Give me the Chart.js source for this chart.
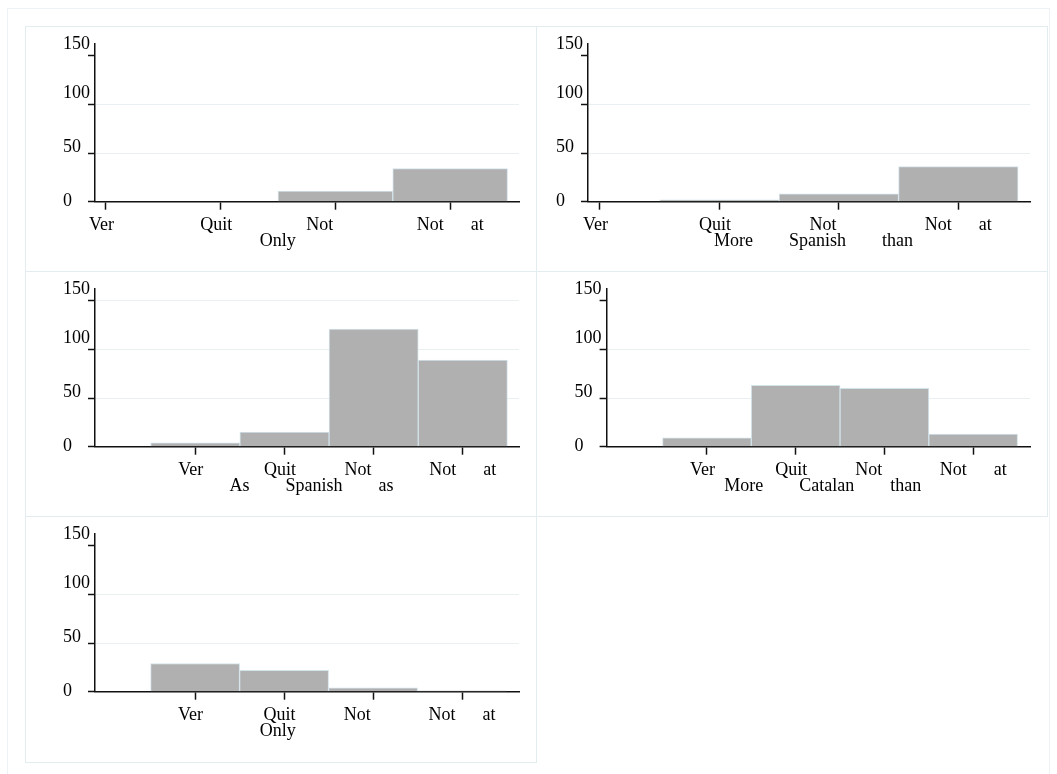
<!DOCTYPE html>
<html>
<head>
<meta charset="utf-8">
<script src="https://cdn.jsdelivr.net/npm/chart.js@4.4.0/dist/chart.umd.min.js"></script>
<style>
  html, body { margin: 0; padding: 0; background: #fff; overflow: hidden; width: 1057px; height: 774px; }
  #frame { position: absolute; left: 7px; top: 8px; width: 1043px; height: 790px; border: 1px solid #edf3f4; box-sizing: border-box; }
  .panel { position: absolute; border: 1px solid #e3edef; box-sizing: border-box; }
  canvas { position: absolute; }
</style>
</head>
<body>
<div id="frame"></div>
<div class="panel" style="left:25px;top:26px;width:512px;height:246px"></div>
<div class="panel" style="left:536px;top:26px;width:512px;height:246px"></div>
<div class="panel" style="left:25px;top:271px;width:512px;height:246px"></div>
<div class="panel" style="left:536px;top:271px;width:512px;height:246px"></div>
<div class="panel" style="left:25px;top:516px;width:512px;height:247px"></div>
<canvas id="c1" width="511" height="245" style="left:25px;top:26px"></canvas>
<canvas id="c2" width="511" height="245" style="left:536px;top:26px"></canvas>
<canvas id="c3" width="511" height="245" style="left:25px;top:271px"></canvas>
<canvas id="c4" width="511" height="245" style="left:536px;top:271px"></canvas>
<canvas id="c5" width="511" height="245" style="left:25px;top:516px"></canvas>
<script>
//========================= Data ==================================//
const pad = n => ' '.repeat(n);

const codes = [1, 2, 3, 4];
const codeLabels = ['Ver' + pad(2), 'Quit' + pad(2), 'Not' + pad(7), 'Not' + pad(6) + 'at'];
const countTicks = [0, 50, 100, 150];

const onlyA = [0, 0, 11, 34];
const moreSpanish = [0, 2, 8, 36];
const asSpanish = [4, 15, 121, 89];
const moreCatalan = [9, 63, 60, 13];
const onlyB = [29, 22, 4, 1];

const titleOnlyA = 'Only' + pad(13);
const titleMoreSpanish = pad(2) + 'More' + pad(8) + 'Spanish' + pad(8) + 'than';
const titleAsSpanish = pad(2) + 'As' + pad(8) + 'Spanish' + pad(8) + 'as';
const titleMoreCatalan = pad(2) + 'More' + pad(8) + 'Catalan' + pad(8) + 'than';
const titleOnlyB = 'Only' + pad(13);

/***************************************************************
* Shared styling
****************************************************************/
const FONT = 'Liberation Serif, Times New Roman, serif';
const INK = '#111';
const GRID = '#e8f0f2';
const BAR_FILL = '#b0b0b0';
const BAR_EDGE = '#d3e3ea';
// lift of each y label above its tick (Stata puts them a bit high)
const yLift = ['18px', '11px', '22px', '23px'];

function makePanel(id, vals, title, opt) {
  const ctx = document.getElementById(id);
  return new Chart(ctx, {
    type: 'bar',
    data: {
      datasets: [{
        data: codes.map((c, i) => ({ x: c, y: vals[i] })),
        backgroundColor: BAR_FILL,
        borderColor: BAR_EDGE,
        borderWidth: 1,
        categoryPercentage: 1,
        barPercentage: 1
      }]
    },
    options: {
      responsive: false,
      animation: false,
      events: [],
      layout: { padding: { left: opt.axisLeft - 32, right: 17, top: 17.7, bottom: 19.3 } },
      plugins: { legend: { display: false }, tooltip: { enabled: false } },
      scales: {
        x: {
          type: 'linear',
          min: opt.xMin,
          max: opt.xMax,
          offset: false,
          afterBuildTicks: s => { s.ticks = codes.map(v => ({ value: v })); },
          afterFit: s => { s.height = 50; s.paddingLeft = 0; s.paddingRight = 0; },
          grid: { offset: false, drawOnChartArea: false, tickLength: 8, tickColor: INK, tickWidth: 1.5 },
          border: { display: true, color: INK, width: 1.5 },
          ticks: {
            autoSkip: false,
            maxRotation: 0,
            padding: 4.5,
            color: '#000',
            font: { family: FONT, size: 18, lineHeight: 1.2 },
            callback: v => codeLabels[codes.indexOf(v)]
          },
          title: {
            display: true,
            text: title,
            color: '#000',
            padding: 0,
            font: { family: FONT, size: 18, lineHeight: 1.2 }
          }
        },
        y: {
          min: 0,
          max: 162.5,
          afterBuildTicks: s => { s.ticks = countTicks.map(v => ({ value: v })); },
          afterFit: s => { s.width = 32; s.paddingTop = 0; s.paddingBottom = 0; },
          grid: {
            color: c => {
              const v = c.tick ? c.tick.value : -1;
              if (v === 50 || v === 100) return GRID;
              if (v === 150 && opt.grid150) return GRID;
              return 'rgba(0,0,0,0)';
            },
            tickColor: INK,
            tickLength: 7,
            tickWidth: 1.5,
            lineWidth: 1
          },
          border: { display: true, color: INK, width: 1.5 },
          ticks: {
            crossAlign: 'far',
            padding: 0,
            color: '#000',
            font: c => ({ family: FONT, size: 18, lineHeight: yLift[c.index] }),
            callback: v => v === 0 ? '0' : [String(v), '']
          }
        }
      }
    }
  });
}

/***************************************************************
* Panels
****************************************************************/
makePanel('c1', onlyA, titleOnlyA, { axisLeft: 70, xMin: 0.905, xMax: 4.6 });
makePanel('c2', moreSpanish, titleMoreSpanish, { axisLeft: 52, xMin: 0.9, xMax: 4.6 });
makePanel('c3', asSpanish, titleAsSpanish, { axisLeft: 70, xMin: -0.125, xMax: 4.63, grid150: true });
makePanel('c4', moreCatalan, titleMoreCatalan, { axisLeft: 70.6, xMin: -0.13, xMax: 4.64 });
makePanel('c5', onlyB, titleOnlyB, { axisLeft: 70, xMin: -0.125, xMax: 4.64 });
</script>
</body>
</html>
